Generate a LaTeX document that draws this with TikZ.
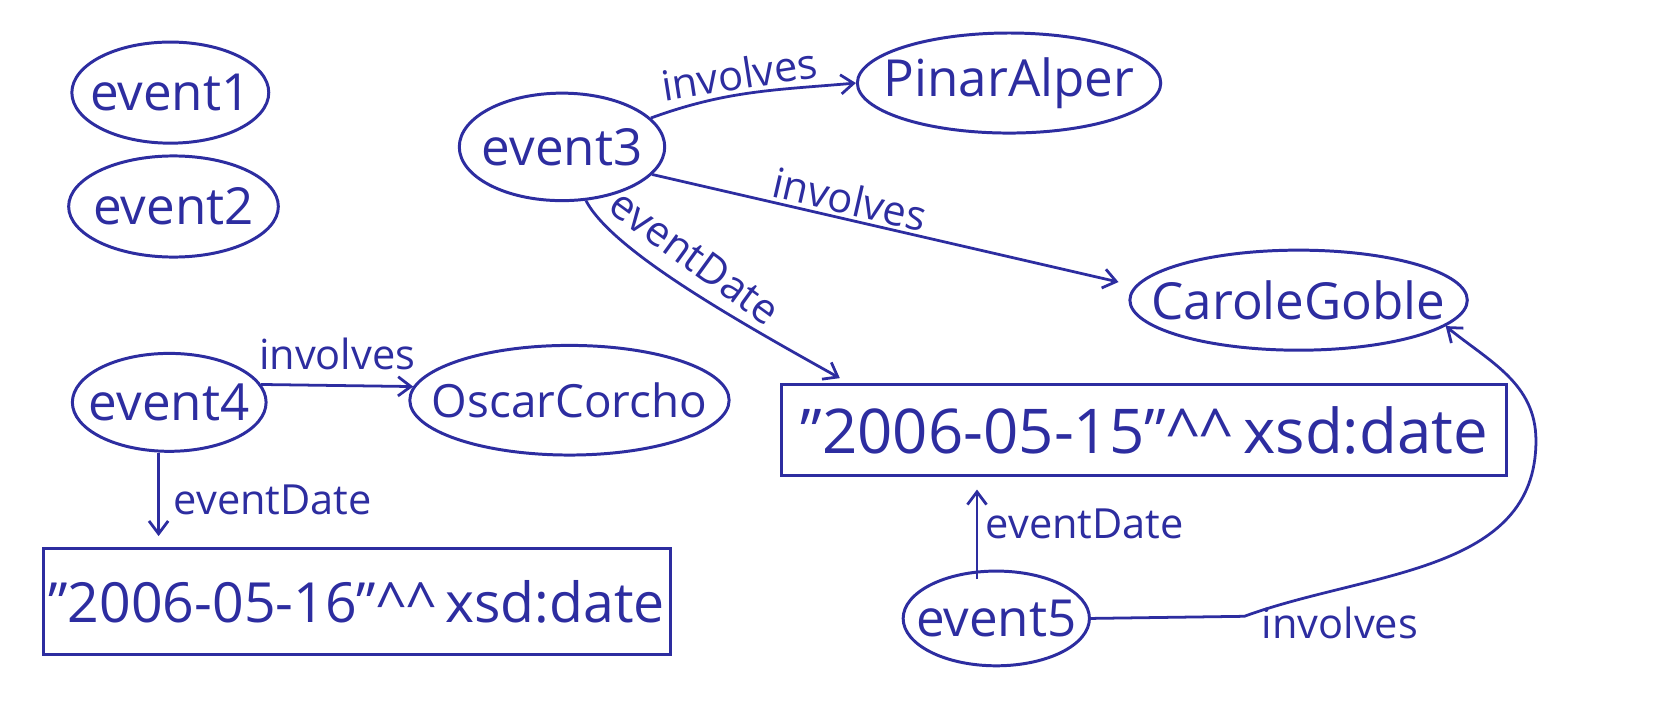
\documentclass[tikz,border=0pt]{standalone}
\usepackage{fontspec}
\setmainfont{Open Sans}
\usetikzlibrary{shapes.geometric,arrows.meta}
\definecolor{ink}{RGB}{45,45,160}
\newcommand\mytext[1]{\makebox[0pt]{#1}}
\newcommand\dq{\char"0022\relax}
\begin{document}
\begin{tikzpicture}[x=1pt,y=-1pt,
  ent/.style={draw=ink, line width=2.8pt, ellipse, inner sep=0pt, text=ink, font=\fontsize{48}{50}\selectfont},
  lit/.style={draw=ink, line width=2.8pt, rectangle, inner sep=0pt, text=ink},
  arr/.style={draw=ink, line width=2.6pt, -{Straight Barb[length=12pt,width=18pt,line width=2.6pt]}},
  lab/.style={text=ink, font=\fontsize{39}{42}\selectfont, inner sep=3pt},
]
\fill[white] (0,0) rectangle (1568,673);
\useasboundingbox (0,0) rectangle (1568,673);

\node[ent, minimum width=185, minimum height=95] (e1) at (160,87) {\mytext{event1}};
\node[ent, minimum width=197, minimum height=95] (e2) at (163,194) {\mytext{event2}};
\node[ent, minimum width=193, minimum height=101] (e3) at (528,138) {\mytext{event3}};
\node[ent, minimum width=285, minimum height=94] (pinar) at (948,78) {\mytext{PinarAlper}};
\node[ent, minimum width=317, minimum height=94] (carole) at (1220,282) {\mytext{CaroleGoble}};
\node[ent, minimum width=182, minimum height=92] (e4) at (159,378) {\mytext{event4}};
\node[ent, minimum width=300, minimum height=103, font=\fontsize{43}{46}\selectfont] (oscar) at (535,376) {\mytext{OscarCorcho}};
\node[ent, minimum width=175, minimum height=89] (e5) at (936,581) {\mytext{event5}};
\node[lit, minimum width=681, minimum height=85, font=\fontsize{58}{60}\selectfont] (lit1) at (1075,404)
  {\mytext{\dq2006-05-15\dq\textasciicircum\textasciicircum\,xsd:date}};
\node[lit, minimum width=589, minimum height=100, font=\fontsize{52}{56}\selectfont] (lit2) at (335,565)
  {\mytext{\dq2006-05-16\dq\textasciicircum\textasciicircum\,xsd:date}};

\draw[arr] (e3.18) to[out=20,in=185] node[lab, above, sloped, pos=0.45] {involves} (pinar.west);
\draw[arr, shorten >=16pt] (e3.-17) -- node[lab, above, sloped, pos=0.40] {involves} (carole.175);
\draw[arr, shorten >=10pt] (e3.-66) .. controls (575,235) and (690,300) ..
  node[lab, pos=0.4, xshift=36pt, yshift=10pt, rotate=-36] {eventDate} (lit1.171.6);
\draw[arr] (e4.11) -- node[lab, above, pos=0.5, yshift=10pt] {involves} (oscar.175);
\draw[arr, shorten >=10pt] (e4.258) -- node[lab, right=10pt, pos=0.5] {eventDate} (e4.258 |- lit2.north);
\draw[arr, shorten <=-8pt, shorten >=12pt] (e5.112) -- node[lab, right=4pt, pos=0.5] {eventDate} (e5.112 |- lit1.south);
\coordinate (k) at (1169,579);
\coordinate (m) at (1443,414);
\draw[arr] (e5.east) -- (k) node[lab, anchor=west, xshift=12pt, yshift=-6pt] {involves}
  to[out=20,in=-90] (m) to[out=90,in=-39] (carole.-10);
\end{tikzpicture}
\end{document}
